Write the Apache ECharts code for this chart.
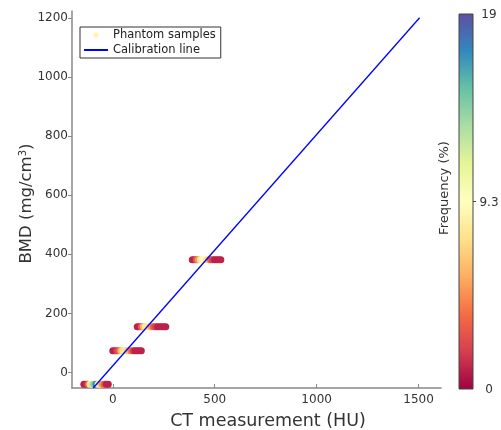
<!DOCTYPE html>
<html>
<head>
<meta charset="utf-8">
<script src="https://cdn.jsdelivr.net/npm/echarts@6/dist/echarts.min.js"></script>
<style>html,body{margin:0;padding:0;background:#fff}#c{width:501px;height:430px}</style>
</head>
<body>
<div id="c"></div>
<script>
// ---- data ----
var clusterBMD = [-39, 74, 155, 382];
var clusterHU = [
  [-142, -132, -122, -112, -102, -92, -82, -72, -62, -52, -42, -32, -22],
  [0, 10, 20, 30, 40, 50, 60, 70, 80, 90, 100, 110, 120, 130, 140],
  [120, 130, 140, 150, 160, 170, 180, 190, 200, 210, 220, 230, 240, 250, 260],
  [390, 400, 410, 420, 430, 440, 450, 460, 470, 480, 490, 500, 510, 520, 530]
];
var clusterFreq = [
  [1, 1, 3, 8, 12, 14, 17, 10, 7, 5, 3, 1, 1],
  [1, 1, 2, 3, 6, 8, 8, 7, 6, 4, 2, 1, 1, 1, 1],
  [1, 1, 3, 6, 8, 8, 7, 5, 3, 2, 1, 1, 1, 1, 1],
  [1, 1, 3, 5, 8, 9, 9, 8, 6, 3, 2, 1, 1, 1, 1]
];
var calibHU = [-96, 1505];
var calibBMD = [-52, 1200];
var xTicks = [0, 500, 1000, 1500];
var yTicks = [0, 200, 400, 600, 800, 1000, 1200];
var freqMax = 18.6;
var cbTickValues = [0, 9.3, 18.6];
var cbTickLabels = ['0', '9.3', '19'];
var spectral = ['#9e0142','#d53e4f','#f46d43','#fdae61','#fee08b','#ffffbf','#e6f598','#abdda4','#66c2a5','#3288bd','#5e4fa2'];

// ---- build ----
var scatterData = [];
for (var c = 0; c < clusterBMD.length; c++) {
  for (var i = 0; i < clusterHU[c].length; i++) {
    scatterData.push([clusterHU[c][i], clusterBMD[c], clusterFreq[c][i]]);
  }
}
var lineData = calibHU.map(function (x, i) { return [x, calibBMD[i]]; });

var cb = {x: 459, y: 14, w: 14, h: 375};
var graphics = [{
  type: 'rect', shape: {x: cb.x, y: cb.y, width: cb.w, height: cb.h},
  style: {
    fill: new echarts.graphic.LinearGradient(0, 1, 0, 0, spectral.map(function (col, k) {
      return {offset: k / (spectral.length - 1), color: col};
    })),
    stroke: '#444', lineWidth: 1
  }, z: 10
}];
cbTickValues.forEach(function (v, k) {
  var yy = cb.y + cb.h * (1 - v / freqMax);
  graphics.push({type: 'text', x: 489, y: yy + 1, style: {text: cbTickLabels[k], fill: '#333', font: '12px "DejaVu Sans"', align: 'center', verticalAlign: 'middle'}, z: 10});
  if (k === 1) {
    graphics.push({type: 'line', shape: {x1: cb.x + cb.w, y1: yy, x2: cb.x + cb.w + 3, y2: yy}, style: {stroke: '#444', lineWidth: 1}, z: 10});
  }
});
graphics.push({type: 'text', x: 445, y: 188, rotation: Math.PI / 2,
  style: {text: 'Frequency (%)', fill: '#333', font: '13px "DejaVu Sans"', align: 'center', verticalAlign: 'middle'}, z: 10});

var axisCol = '#888';
var plain = function (v) { return String(v); };
var chart = echarts.init(document.getElementById('c'), null, {renderer: 'canvas'});
chart.setOption({
  animation: false,
  backgroundColor: '#fff',
  textStyle: {fontFamily: 'DejaVu Sans'},
  grid: {left: 72, right: 60, top: 11, bottom: 42, containLabel: false, outerBoundsMode: 'none'},
  legend: {
    orient: 'vertical', left: 80, top: 27,
    padding: [2, 5, 2, 3], itemGap: 3, itemWidth: 24, itemHeight: 5,
    borderColor: '#333', borderWidth: 1, borderRadius: 0,
    textStyle: {fontSize: 11.5, color: '#222', fontFamily: 'DejaVu Sans'},
    data: [
      {name: 'Phantom samples', icon: 'circle', itemStyle: {color: '#fff3a8'}},
      {name: 'Calibration line', itemStyle: {opacity: 0}}
    ]
  },
  visualMap: {
    type: 'continuous', show: false, min: 0, max: freqMax, dimension: 2, seriesIndex: 0,
    inRange: {color: spectral}
  },
  xAxis: {
    type: 'value', min: -200, max: 1610,
    name: 'CT measurement (HU)', nameLocation: 'middle', nameGap: 24, nameMoveOverlap: false,
    nameTextStyle: {fontSize: 17.5, color: '#333', fontFamily: 'DejaVu Sans', padding: [0, 0, 0, 23]},
    axisLine: {show: true, onZero: false, lineStyle: {color: axisCol, width: 1.5}},
    axisTick: {show: true, inside: true, length: 4, customValues: xTicks, lineStyle: {color: axisCol}},
    axisLabel: {customValues: xTicks, fontSize: 12, color: '#333', margin: 6, formatter: plain},
    splitLine: {show: false}
  },
  yAxis: {
    type: 'value', min: -52, max: 1223,
    name: 'BMD (mg/cm{sup|3})', nameLocation: 'middle', nameGap: 36, nameMoveOverlap: false,
    nameTextStyle: {fontSize: 16.5, color: '#333', fontFamily: 'DejaVu Sans', padding: [0, 8, 0, 0],
      rich: {sup: {fontSize: 10, verticalAlign: 'top', padding: [0, 0, 8, 0], color: '#333'}}},
    axisLine: {show: true, onZero: false, lineStyle: {color: axisCol, width: 1.5}},
    axisTick: {show: true, inside: false, length: 4, customValues: yTicks, lineStyle: {color: axisCol}},
    axisLabel: {customValues: yTicks, fontSize: 12, color: '#333', margin: 4, formatter: plain},
    splitLine: {show: false}
  },
  series: [
    {
      name: 'Phantom samples', type: 'scatter', symbol: 'circle', symbolSize: 7,
      data: scatterData, itemStyle: {opacity: 1}, z: 2
    },
    {
      name: 'Calibration line', type: 'line', data: lineData, symbol: 'none',
      lineStyle: {color: '#0000ff', width: 1.3}, itemStyle: {color: '#0000ff'}, z: 3
    }
  ],
  graphic: graphics
});
</script>
</body>
</html>
